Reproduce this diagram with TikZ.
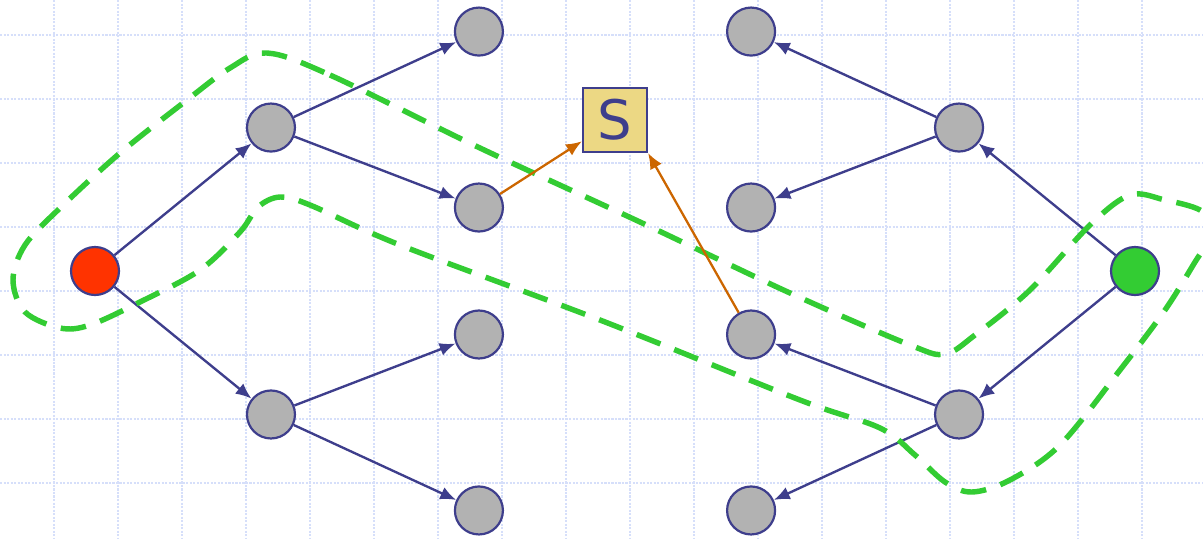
\documentclass[tikz,border=0pt]{standalone}
\usepackage{fontspec}
\setsansfont{DejaVu Sans}
\usetikzlibrary{arrows.meta}

\definecolor{edgeblue}{RGB}{62,62,140}
\definecolor{nodegrey}{RGB}{178,178,178}
\definecolor{srcred}{RGB}{255,51,0}
\definecolor{dstgreen}{RGB}{51,204,51}
\definecolor{boxfill}{RGB}{236,216,132}
\definecolor{hitorange}{RGB}{204,102,0}
\definecolor{gridblue}{RGB}{214,223,250}

\begin{document}
\begin{tikzpicture}[
x=0.02cm, y=-0.02cm,
level 1/.style={level distance=3.52cm,sibling distance=5.74cm},
level 2/.style={level distance=4.16cm,sibling distance=3.52cm},
edge from parent/.style={draw=edgeblue,line width=1.35pt,-{Latex[length=9pt,width=7.5pt]}},
vertex/.style={circle,draw=edgeblue,fill=nodegrey,line width=1.25pt,minimum size=0.96cm,inner sep=0pt},
source/.style={vertex,fill=srcred},
target/.style={vertex,fill=dstgreen},
meet/.style={rectangle,draw=edgeblue,fill=boxfill,line width=1.25pt,minimum size=1.28cm,inner sep=0pt,
  text=edgeblue,font=\sffamily\fontsize{31}{31}\selectfont},
hit/.style={draw=hitorange,line width=1.3pt,-{Latex[length=9pt,width=7.5pt]}},
frontier/.style={draw=dstgreen,line width=3.1pt,dash pattern=on 14.5pt off 8.5pt},
gridline/.style={draw=gridblue,line width=1pt,dash pattern=on 1.2pt off 0.8pt}
]
\clip (0,0) rectangle (1203,539);

% background grid
\foreach \gx in {54,118,...,1142} \draw[gridline] (\gx,0) -- (\gx,539);
\foreach \gy in {35,99,...,483} \draw[gridline] (0,\gy) -- (1203,\gy);

% forward search from the source
\node[source] (src) at (95,271) {}
[grow'=right]
child{
    node[vertex] (a1) {}
    child[yshift=0.16cm]{node[vertex] (a11) {}}
    child[yshift=0.16cm]{node[vertex] (a12) {}}
}
child{
    node[vertex] (a2) {}
    child[yshift=-0.16cm]{node[vertex] (a21) {}}
    child[yshift=-0.16cm]{node[vertex] (a22) {}}
};

% backward search from the target
\node[target] (dst) at (1135,271) {}
[grow=left]
child{
    node[vertex] (b1) {}
    child[yshift=0.16cm]{node[vertex] (b11) {}}
    child[yshift=0.16cm]{node[vertex] (b12) {}}
}
child{
    node[vertex] (b2) {}
    child[yshift=-0.16cm]{node[vertex] (b21) {}}
    child[yshift=-0.16cm]{node[vertex] (b22) {}}
};

\node[meet] (S) at (615,120) {S};

% the path found
\draw[frontier] plot[smooth cycle,tension=0.55] coordinates {
(267,53) (330,75) (480,148) (640,222) (790,293) (910,345) (945,354)
(975,335) (1030,290) (1090,225) (1130,195) (1165,200) (1200,210)
(1215,228) (1195,262) (1165,310) (1120,370) (1060,445) (1010,480)
(972,492) (945,482) (915,455) (880,428) (800,400) (600,320) (400,245)
(310,205) (280,197) (258,207) (240,232) (200,270) (140,302) (90,325)
(60,328) (25,312) (13,280) (25,245) (60,208) (120,153) (187,100) (230,68)
};

\draw[hit] (a12) -- (S);
\draw[hit] (b21) -- (S.south east);

\end{tikzpicture}
\end{document}
